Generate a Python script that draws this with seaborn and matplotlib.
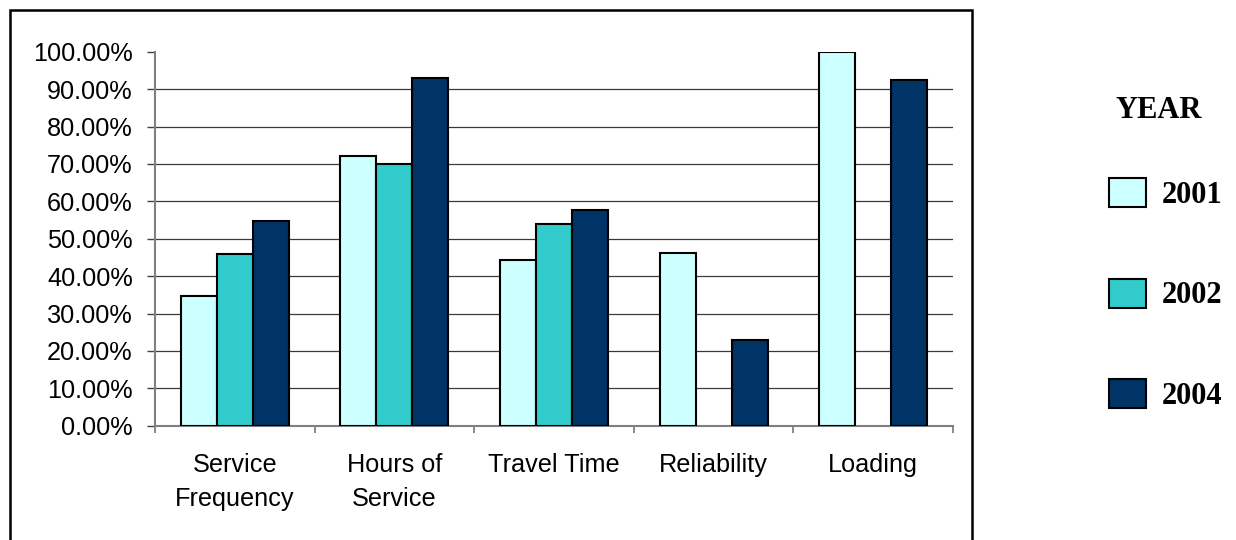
import numpy as np
import pandas as pd
import matplotlib
matplotlib.use("Agg")
import matplotlib.pyplot as plt
from matplotlib.patches import Rectangle
from matplotlib.ticker import FixedLocator, PercentFormatter
import seaborn as sns

# Share of respondents satisfied, by service attribute and survey year
categories = ["Service\nFrequency", "Hours of\nService", "Travel Time", "Reliability", "Loading"]
years = ["2001", "2002", "2004"]
share_2001 = [0.348, 0.722, 0.444, 0.461, 1.000]
share_2002 = [0.459, 0.701, 0.540, np.nan, np.nan]
share_2004 = [0.546, 0.930, 0.578, 0.230, 0.925]
year_colors = ["#CCFFFF", "#33CCCC", "#003366"]
y_ticks = [0.0, 0.1, 0.2, 0.3, 0.4, 0.5, 0.6, 0.7, 0.8, 0.9, 1.0]

df = pd.DataFrame({
    "category": categories * 3,
    "year": [y for y in years for _ in categories],
    "share": share_2001 + share_2002 + share_2004,
})

sns.set_theme(style="white")
plt.rcParams["font.family"] = ["Liberation Sans", "DejaVu Sans"]
plt.rcParams["text.color"] = "black"

W, H = 1236, 540
fig = plt.figure(figsize=(W / 100, H / 100), dpi=100)
ax = fig.add_axes([155 / W, 1 - 425.7 / H, (953 - 155) / W, (425.7 - 51.7) / H])

sns.barplot(
    data=df, x="category", y="share", hue="year",
    order=categories, hue_order=years, palette=year_colors,
    width=0.677, edgecolor="black", linewidth=1.5, errorbar=None,
    saturation=1, ax=ax, zorder=3,
)

ax.set_xlim(-0.5, len(categories) - 0.5)
ax.set_ylim(0, 1)
ax.set_xlabel("")
ax.set_ylabel("")

# y axis: percent ticks with horizontal gridlines
ax.yaxis.set_major_locator(FixedLocator(y_ticks))
ax.yaxis.set_major_formatter(PercentFormatter(xmax=1, decimals=2))
ax.yaxis.grid(True, color="#3a3a3a", linewidth=0.9)
ax.set_axisbelow(True)
ax.get_ygridlines()[-1].set_visible(False)
ax.get_ygridlines()[0].set_visible(False)
ax.tick_params(axis="y", which="major", direction="out", length=5.8, width=1.0,
               color="#404040", pad=10.2, labelsize=18.2, labelcolor="black", left=True)

# x axis: labels at centers, tick marks on category boundaries
ax.xaxis.set_minor_locator(FixedLocator(np.arange(-0.5, len(categories), 1.0)))
ax.tick_params(axis="x", which="major", length=0, pad=19.5, labelsize=18.2, labelcolor="black")
ax.tick_params(axis="x", which="minor", direction="out", length=5.2, width=1.3,
               color="#808080", bottom=True)
for lbl in ax.get_xticklabels():
    lbl.set_linespacing(1.55)

for side in ["top", "right"]:
    ax.spines[side].set_visible(False)
for side in ["left", "bottom"]:
    ax.spines[side].set_color("#808080")
    ax.spines[side].set_linewidth(1.5)

# Legend on the right, outside the framed chart area
old = ax.get_legend()
handles = list(old.legend_handles)
labels = [t.get_text() for t in old.get_texts()]
old.remove()
for h, c in zip(handles, year_colors):
    h.set_facecolor(c)
    h.set_edgecolor("black")
    h.set_linewidth(1.5)
legend_font = {"family": "Liberation Serif", "weight": "bold", "size": 22}
fig.legend(
    handles, labels, loc="center",
    bbox_to_anchor=(1166 / W, 1 - 294.5 / H), bbox_transform=fig.transFigure,
    frameon=False, handlelength=1.2, handleheight=1.08, handletextpad=0.52,
    labelspacing=2.25, prop=legend_font, labelcolor="black",
)
fig.text(1159 / W, 1 - 110 / H, "YEAR", ha="center", va="center",
         color="black", **legend_font)

# Outer chart frame (open at the bottom edge of the image)
fig.patches.append(Rectangle(
    (9.5 / W, -0.05), (972 - 9.5) / W, 1.05 - 10.5 / H,
    transform=fig.transFigure, fill=False, edgecolor="black", linewidth=1.8,
))

fig.savefig("out.png", dpi=100, facecolor="white")
